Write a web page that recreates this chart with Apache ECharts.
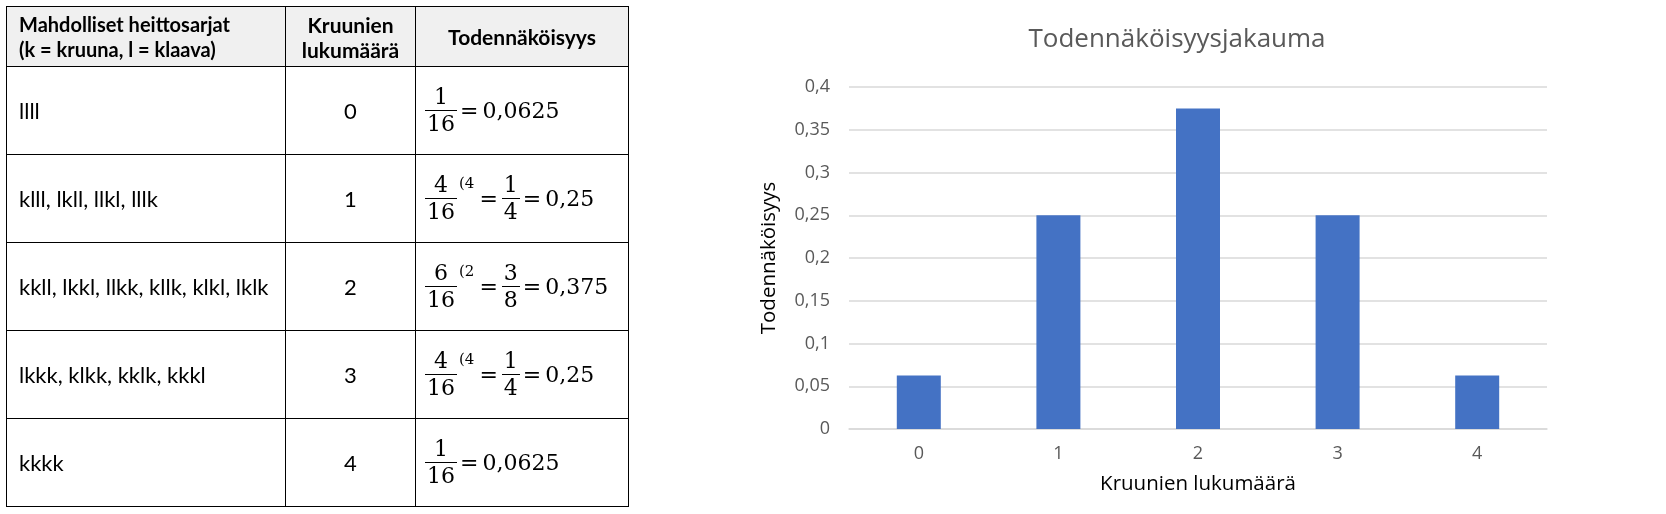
<!DOCTYPE html>
<html><head><meta charset="utf-8">
<script src="https://cdn.jsdelivr.net/npm/echarts@6/dist/echarts.min.js"></script>
<style>
html,body{margin:0;padding:0;background:#fff;width:1666px;height:514px;overflow:hidden}
#chart{position:absolute;left:0;top:0;width:1666px;height:514px}
#tbl{position:absolute;left:6px;top:6px;width:622px;border-collapse:collapse;table-layout:fixed;font-family:Lato,'Open Sans',sans-serif;color:#000}
#tbl th,#tbl td{border:1.5px solid #000;padding:0;vertical-align:middle}
#tbl tr.hd{height:60px;background:#f0f0f0}
#tbl tr.bd{height:88px}
#tbl th{font-weight:bold;font-size:21px;line-height:25px;text-align:center}
#tbl th.c1{text-align:left;padding-left:12px;font-size:20px}
#tbl td.c1{font-size:22px;padding-left:12px;text-align:left;white-space:nowrap}
#tbl td.c2{font-size:22px;text-align:center}
#tbl td.c3{padding-left:9px}
.math{display:flex;align-items:center;font-family:'DejaVu Serif',serif;font-size:22px;white-space:nowrap}
.frac{display:inline-flex;flex-direction:column;align-items:center}
.frac .n{border-bottom:1.5px solid #000;padding:0 2px;line-height:26px;align-self:stretch;text-align:center}
.frac .d{line-height:26px;padding:0 2px}
.sup{font-size:15px;align-self:flex-start;margin-top:2px;margin-left:2px;margin-right:2px}
.eq{margin:0 4px 0 3px}
</style></head><body>
<div id="chart"></div>
<table id="tbl"></table>
<script>
// ---- table data ----
const headerSequences = ['Mahdolliset heittosarjat', '(k = kruuna, l = klaava)'];
const headerCount = ['Kruunien', 'lukumäärä'];
const headerProb = ['Todennäköisyys'];
const sequences = ['llll', 'klll, lkll, llkl, lllk', 'kkll, lkkl, llkk, kllk, klkl, lklk', 'lkkk, klkk, kklk, kkkl', 'kkkk'];
const counts = [0, 1, 2, 3, 4];
const favourable = [1, 4, 6, 4, 1];
const outcomes = 16;
const reducedBy = ['', '4', '2', '4', ''];
const reducedNum = [null, 1, 3, 1, null];
const reducedDen = [null, 4, 8, 4, null];
const probabilityText = ['0,0625', '0,25', '0,375', '0,25', '0,0625'];

// ---- chart data ----
const categories = ['0', '1', '2', '3', '4'];
const probabilities = [0.0625, 0.25, 0.375, 0.25, 0.0625];
const chartTitle = 'Todennäköisyysjakauma';
const xTitle = 'Kruunien lukumäärä';
const yTitle = 'Todennäköisyys';

function frac(n, d) { return '<span class="frac"><span class="n">' + n + '</span><span class="d">' + d + '</span></span>'; }
const eq = '<span class="eq">=</span>';
let html = '<colgroup><col style="width:279px"><col style="width:130px"><col style="width:213px"></colgroup>';
html += '<tr class="hd"><th class="c1">' + headerSequences.join('<br>') + '</th><th>' + headerCount.join('<br>') + '</th><th>' + headerProb.join('<br>') + '</th></tr>';
for (let i = 0; i < sequences.length; i++) {
  let m = frac(favourable[i], outcomes);
  if (reducedBy[i]) m += '<span class="sup">(' + reducedBy[i] + '</span>';
  if (reducedNum[i] != null) m += eq + frac(reducedNum[i], reducedDen[i]);
  m += eq + '<span>' + probabilityText[i] + '</span>';
  html += '<tr class="bd"><td class="c1">' + sequences[i] + '</td><td class="c2">' + counts[i] + '</td><td class="c3"><div class="math">' + m + '</div></td></tr>';
}
document.getElementById('tbl').innerHTML = html;

const chart = echarts.init(document.getElementById('chart'), null, {renderer: 'canvas'});
const font = "'Open Sans', 'Noto Sans', sans-serif";
chart.setOption({
  animation: false,
  title: {text: chartTitle, left: 1172, top: 22, textAlign: 'center',
    textStyle: {fontFamily: font, fontSize: 26, fontWeight: 'normal', color: '#595959'}},
  grid: {left: 849, top: 87, width: 698, height: 342},
  xAxis: {type: 'category', data: categories,
    axisLine: {lineStyle: {color: '#d9d9d9', width: 1.5}}, axisTick: {show: false},
    axisLabel: {color: '#595959', fontSize: 18, fontFamily: font, margin: 16},
    name: xTitle, nameLocation: 'middle', nameGap: 45,
    nameTextStyle: {color: '#000', fontSize: 20.5, fontFamily: font}},
  yAxis: {type: 'value', min: 0, max: 0.4, interval: 0.05,
    axisLine: {show: false}, axisTick: {show: false},
    splitLine: {lineStyle: {color: '#d9d9d9', width: 1.5}},
    axisLabel: {color: '#595959', fontSize: 18, fontFamily: font, margin: 19,
      formatter: v => String(Math.round(v * 100) / 100).replace('.', ',')},
    name: yTitle, nameLocation: 'middle', nameGap: 69, nameRotate: 90,
    nameTextStyle: {color: '#000', fontSize: 20.5, fontFamily: font}},
  series: [{type: 'bar', data: probabilities, barWidth: 44, itemStyle: {color: '#4472C4'}}]
});
</script>
</body></html>
